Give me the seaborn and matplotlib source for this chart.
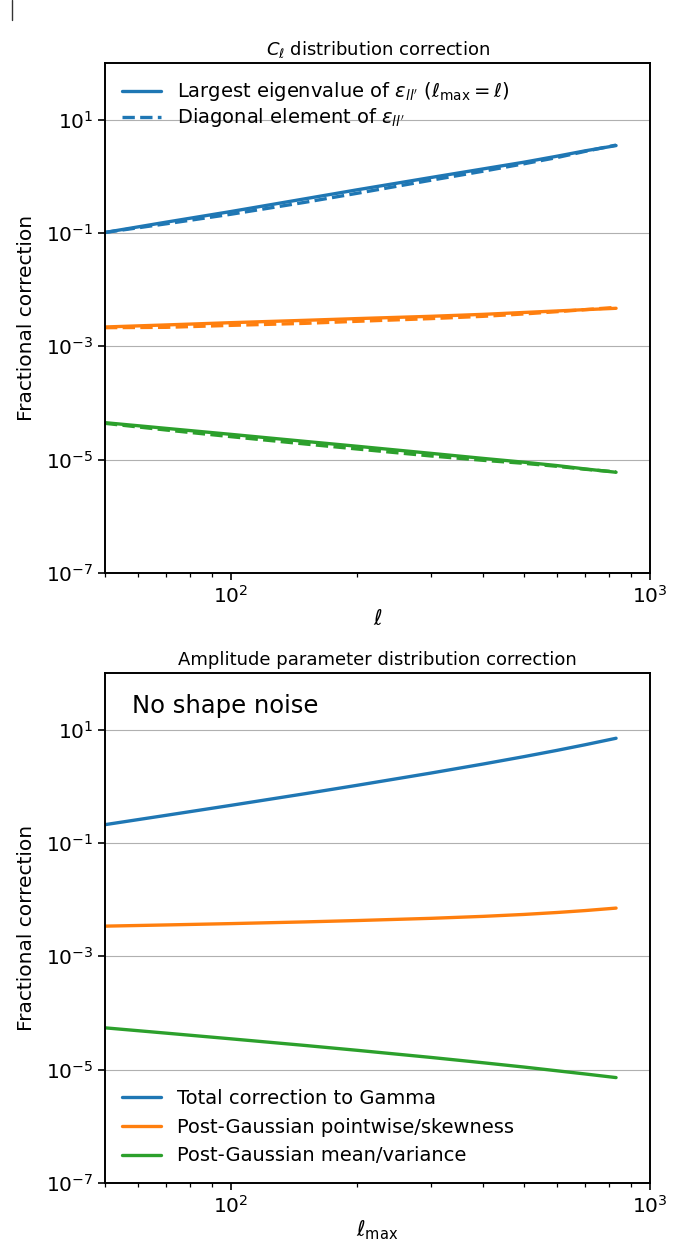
import numpy as np
import pandas as pd
import matplotlib
matplotlib.use('Agg')
import matplotlib.pyplot as plt
from matplotlib.lines import Line2D
import seaborn as sns

ell = [50, 70, 100, 150, 200, 300, 400, 500, 600, 700, 830]

# top panel: C_ell distribution correction
eig_blue = [0.102, 0.155, 0.239, 0.400, 0.577, 0.951, 1.35, 1.77, 2.26, 2.81, 3.48]
diag_blue = [0.102, 0.145, 0.214, 0.347, 0.501, 0.851, 1.23, 1.66, 2.14, 2.75, 3.55]
eig_orange = [2.19e-3, 2.38e-3, 2.61e-3, 2.87e-3, 3.08e-3, 3.38e-3, 3.66e-3, 3.95e-3, 4.20e-3, 4.43e-3, 4.68e-3]
diag_orange = [2.13e-3, 2.16e-3, 2.34e-3, 2.54e-3, 2.76e-3, 3.08e-3, 3.38e-3, 3.72e-3, 4.08e-3, 4.43e-3, 4.86e-3]
eig_green = [4.49e-5, 3.56e-5, 2.79e-5, 2.10e-5, 1.72e-5, 1.29e-5, 1.05e-5, 9.0e-6, 7.85e-6, 6.85e-6, 5.98e-6]
diag_green = [4.37e-5, 3.33e-5, 2.54e-5, 1.89e-5, 1.54e-5, 1.16e-5, 9.72e-6, 8.61e-6, 7.62e-6, 6.76e-6, 6.07e-6]

# bottom panel: amplitude parameter distribution correction
amp_total = [0.210, 0.307, 0.461, 0.738, 1.04, 1.71, 2.47, 3.33, 4.30, 5.40, 7.03]
amp_skew = [3.40e-3, 3.57e-3, 3.77e-3, 4.04e-3, 4.27e-3, 4.67e-3, 5.06e-3, 5.47e-3, 5.92e-3, 6.40e-3, 7.08e-3]
amp_meanvar = [5.46e-5, 4.40e-5, 3.49e-5, 2.67e-5, 2.19e-5, 1.64e-5, 1.32e-5, 1.11e-5, 9.53e-6, 8.38e-6, 7.23e-6]

top_labels = [r"Largest eigenvalue of $\varepsilon_{ll'}$ ($\ell_{\rm max} = \ell$)",
              r"Diagonal element of $\varepsilon_{ll'}$"]
bottom_labels = ["Total correction to Gamma",
                 "Post-Gaussian pointwise/skewness",
                 "Post-Gaussian mean/variance"]

blue, orange, green = '#1f77b4', '#ff7f0e', '#2ca02c'

sns.set_style("ticks")
plt.rcParams['font.family'] = ['DejaVu Sans']
plt.rcParams['mathtext.fontset'] = 'dejavusans'
plt.rcParams['axes.linewidth'] = 1.4
plt.rcParams['xtick.direction'] = 'out'
plt.rcParams['ytick.direction'] = 'out'
for key in ['text.color', 'axes.labelcolor', 'xtick.color', 'ytick.color', 'axes.edgecolor']:
    plt.rcParams[key] = 'black'

fig = plt.figure(figsize=(6.93, 12.51), dpi=100)
ax1 = fig.add_axes([0.1515, 0.542, 0.7864, 0.4077])
ax2 = fig.add_axes([0.1515, 0.0544, 0.7864, 0.4077])

lw = 2.4
top = pd.DataFrame({'ell': ell})
sns.lineplot(x=top['ell'], y=eig_blue, color=blue, lw=lw, label=top_labels[0], ax=ax1)
sns.lineplot(x=top['ell'], y=diag_blue, color=blue, lw=lw, ls='--', label=top_labels[1], ax=ax1)
sns.lineplot(x=top['ell'], y=eig_orange, color=orange, lw=lw, label='_nolegend_', ax=ax1)
sns.lineplot(x=top['ell'], y=diag_orange, color=orange, lw=lw, ls='--', label='_nolegend_', ax=ax1)
sns.lineplot(x=top['ell'], y=eig_green, color=green, lw=lw, label='_nolegend_', ax=ax1)
sns.lineplot(x=top['ell'], y=diag_green, color=green, lw=lw, ls='--', label='_nolegend_', ax=ax1)

sns.lineplot(x=ell, y=amp_total, color=blue, lw=lw, label=bottom_labels[0], ax=ax2)
sns.lineplot(x=ell, y=amp_skew, color=orange, lw=lw, label=bottom_labels[1], ax=ax2)
sns.lineplot(x=ell, y=amp_meanvar, color=green, lw=lw, label=bottom_labels[2], ax=ax2)

for ax in (ax1, ax2):
    ax.set_xscale('log')
    ax.set_yscale('log')
    ax.set_xlim(50, 1000)
    ax.set_ylim(1e-7, 1e2)
    ax.grid(True, axis='y', which='major', color='#b0b0b0', lw=0.8)
    ax.set_ylabel("Fractional correction", fontsize=14.5, labelpad=7)
    ax.tick_params(axis='both', which='major', labelsize=14.5, length=5, width=1.2)
    ax.tick_params(axis='both', which='minor', length=3, width=0.9)
    for s in ax.spines.values():
        s.set_visible(True)
        s.set_color('black')

ax1.set_title(r"$C_\ell$ distribution correction", fontsize=13)
ax1.set_xlabel(r"$\ell$", fontsize=15, labelpad=2)
ax1.legend(loc='upper left', frameon=False, fontsize=14, handlelength=2.0,
           labelspacing=0.15)

ax2.set_title("Amplitude parameter distribution correction", fontsize=13)
ax2.set_xlabel(r"$\ell_{\rm max}$", fontsize=15, labelpad=1)
ax2.legend(loc='lower left', frameon=False, fontsize=14, handlelength=2.0)
ax2.text(0.05, 0.935, "No shape noise", transform=ax2.transAxes, fontsize=17.5,
         ha='left', va='center')

# small stray mark in the top-left corner of the original image
fig.add_artist(Line2D([12 / 693, 12 / 693], [1.0, 1 - 20 / 1251], color='#333333', lw=1.0))

fig.savefig('out.png', dpi=100)
